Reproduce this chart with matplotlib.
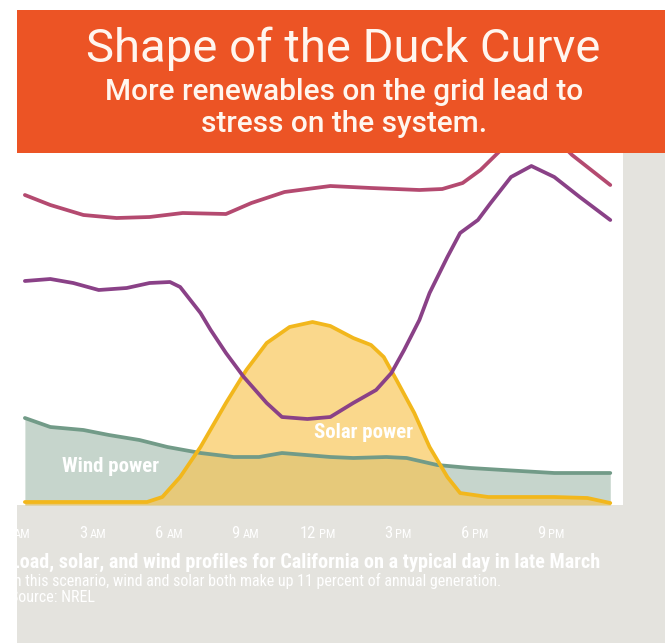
import matplotlib.pyplot as plt
from matplotlib.patches import Rectangle
from matplotlib.transforms import blended_transform_factory

# values (hour of day, arbitrary GW-like units)
load_hours = [0.5, 1.5, 2.8, 4.1, 5.4, 6.7, 8.4, 9.4, 10.7, 12.5, 14.1, 16.0, 16.9,
              17.7, 18.4, 19.0, 19.6, 20.4, 21.1, 22.0, 23.5]
load_vals = [31.0, 30.0, 29.0, 28.7, 28.8, 29.2, 29.1, 30.2, 31.3, 31.9, 31.7, 31.5, 31.6,
             32.2, 33.5, 35.0, 36.5, 37.5, 37.3, 35.0, 32.0]

net_hours = [0.5, 1.5, 2.4, 3.4, 4.5, 5.4, 6.2, 6.6, 7.4, 7.8, 8.4, 9.1, 10.0, 10.6, 11.6,
             12.5, 13.4, 14.3, 14.9, 15.4, 16.0, 16.4, 17.1, 17.6, 18.3, 18.8, 19.6, 20.4,
             21.3, 22.3, 23.5]
net_vals = [22.4, 22.6, 22.2, 21.5, 21.7, 22.2, 22.3, 21.8, 19.2, 17.5, 15.2, 12.8, 10.2,
            8.8, 8.6, 8.8, 10.2, 11.5, 13.2, 15.5, 18.5, 21.2, 24.8, 27.2, 28.5, 30.2, 32.8,
            33.9, 32.8, 30.8, 28.5]

solar_hours = [0.5, 5.3, 5.9, 6.6, 7.4, 8.4, 9.2, 10.0, 10.9, 11.8, 12.5, 12.8, 13.4, 14.1,
               14.6, 15.1, 15.8, 16.4, 17.1, 17.6, 18.7, 21.3, 22.6, 23.5]
solar_vals = [0.3, 0.3, 0.8, 2.8, 5.8, 10.2, 13.5, 16.2, 17.8, 18.3, 17.9, 17.5, 16.7, 16.0,
              14.8, 12.5, 9.2, 5.8, 2.8, 1.2, 0.8, 0.8, 0.7, 0.2]

wind_hours = [0.5, 1.5, 2.8, 3.8, 5.0, 6.1, 7.4, 8.7, 9.7, 10.6, 12.5, 13.4, 14.7, 15.5,
              16.7, 18.0, 19.3, 21.3, 23.5]
wind_vals = [8.7, 7.8, 7.5, 7.0, 6.5, 5.8, 5.2, 4.8, 4.8, 5.2, 4.8, 4.7, 4.8, 4.7, 4.0,
             3.7, 3.5, 3.2, 3.2]

tick_hours = [0, 3, 6, 9, 12, 15, 18, 21]
tick_nums = ['12', '3', '6', '9', '12', '3', '6', '9']
tick_ampm = ['AM', 'AM', 'AM', 'AM', 'PM', 'PM', 'PM', 'PM']

W, H = 665, 643
fig = plt.figure(figsize=(W / 100, H / 100), dpi=100)
fig.patch.set_facecolor('white')

def fx(x):
    return x / W

def fy(y):
    return 1 - y / H

ORANGE = '#ec5425'
GRAY = '#e4e3de'
NARROW = ['Roboto Condensed', 'Roboto']

# grey panel and orange banner
fig.add_artist(Rectangle((fx(17), 0), 1 - fx(17), fy(153), transform=fig.transFigure,
                         facecolor=GRAY, edgecolor='none', zorder=0))
fig.add_artist(Rectangle((fx(17), fy(153)), 1 - fx(17), fy(10) - fy(153),
                         transform=fig.transFigure, facecolor=ORANGE, edgecolor='none', zorder=0))

fig.text(fx(343), fy(62), 'Shape of the Duck Curve', color='#fff6ef', fontsize=34,
         family='Roboto', ha='center', va='baseline')
fig.text(fx(344), fy(100), 'More renewables on the grid lead to', color='#fff6ef', fontsize=21.5,
         family='Roboto', weight='medium', ha='center', va='baseline')
fig.text(fx(344), fy(132), 'stress on the system.', color='#fff6ef', fontsize=21.5,
         family='Roboto', weight='medium', ha='center', va='baseline')

ax = fig.add_axes([fx(17), fy(505), fx(623) - fx(17), fy(153) - fy(505)])
ax.set_zorder(2)
ax.set_facecolor('white')

ax.fill_between(wind_hours, wind_vals, 0, color='#c6d5cc', lw=0)
ax.fill_between(solar_hours, solar_vals, 0, color='#f8c34e', alpha=0.65, lw=0)
line_kw = dict(lw=2.7, solid_joinstyle='round', solid_capstyle='round')
ax.plot(wind_hours, wind_vals, color='#729b88', **line_kw)
ax.plot(solar_hours, solar_vals, color='#f2b71c', **line_kw)
ax.plot(load_hours, load_vals, color='#b44a70', **line_kw)
ax.plot(net_hours, net_vals, color='#8a4187', **line_kw)

ax.text(3.85, 3.8, 'Wind power', color='white', fontsize=15, weight='bold',
        family=NARROW, ha='center', va='center')
ax.text(13.8, 7.2, 'Solar power', color='white', fontsize=15, weight='bold',
        family=NARROW, ha='center', va='center')

ax.set_xlim(0.19, 24.0)
ax.set_ylim(0, 35.2)
ax.set_xticks([])
ax.set_yticks([])
for s in ax.spines.values():
    s.set_visible(False)

# hour labels below the plot: big number, small AM/PM
trans = blended_transform_factory(ax.transData, fig.transFigure)
for h, n, ap in zip(tick_hours, tick_nums, tick_ampm):
    fig.text(h - 0.06, fy(538), n, transform=trans, color='white', fontsize=12,
             family=NARROW, ha='right', va='baseline', zorder=3)
    fig.text(h + 0.06, fy(538), ap, transform=trans, color='white', fontsize=9,
             family=NARROW, ha='left', va='baseline', zorder=3)

fig.text(fx(10), fy(568), 'Load, solar, and wind profiles for California on a typical day in late March',
         color='white', fontsize=14.5, weight='bold', family=NARROW, va='baseline', zorder=3)
fig.text(fx(10), fy(586), 'In this scenario, wind and solar both make up 11 percent of annual generation.',
         color='white', fontsize=11.5, family=NARROW, va='baseline', zorder=3)
fig.text(fx(10), fy(602), 'Source: NREL', color='white', fontsize=11.5, family=NARROW,
         va='baseline', zorder=3)

fig.savefig('out.png', dpi=100)
